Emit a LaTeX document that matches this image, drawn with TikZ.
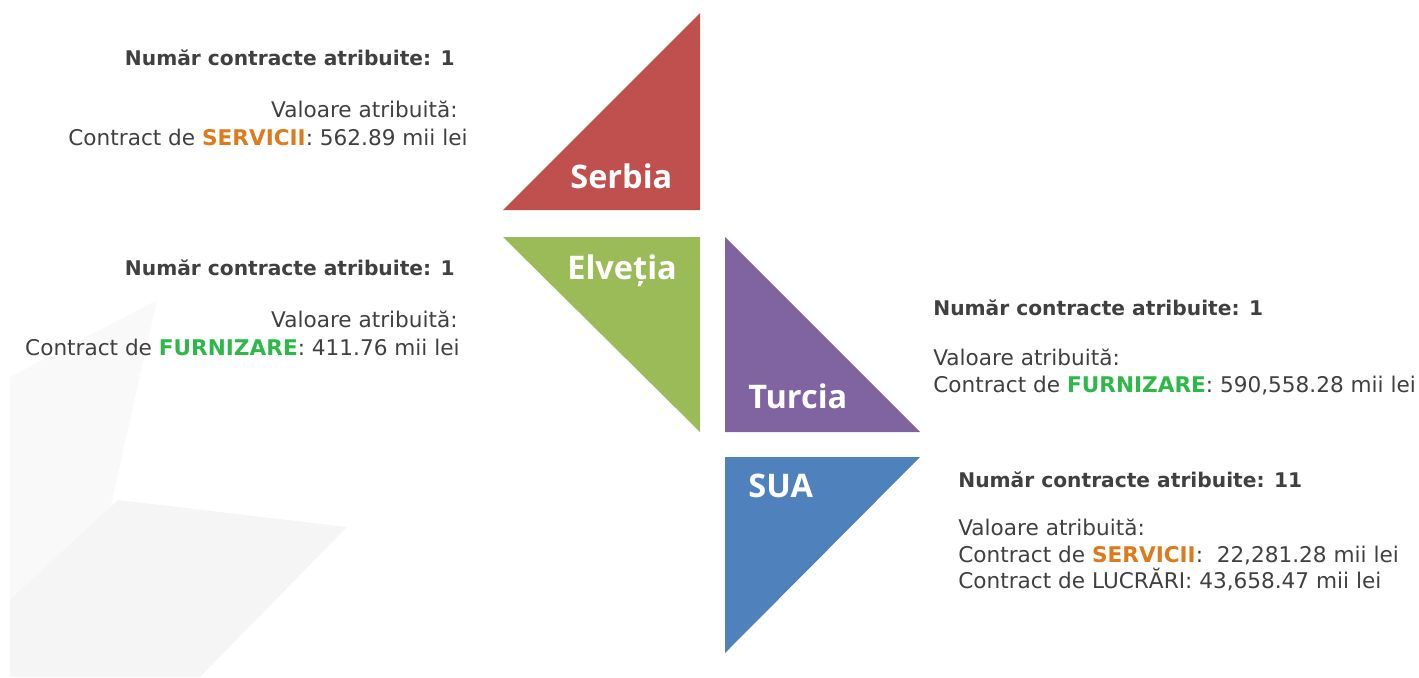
\documentclass[tikz,border=0pt]{standalone}
\usepackage{fontspec}
\setmainfont{DejaVu Sans}
\newfontfamily\countryfont{Open Sans}
\definecolor{txtgray}{HTML}{404040}
\definecolor{servorange}{HTML}{DB7B1E}
\definecolor{furngreen}{HTML}{2EB84A}
\definecolor{serbiared}{HTML}{C0504D}
\definecolor{elvgreen}{HTML}{9BBB59}
\definecolor{turcpurple}{HTML}{8064A2}
\definecolor{suablue}{HTML}{4F81BD}
\begin{document}
\begin{tikzpicture}[x=0.02cm, y=-0.02cm,
    count/.style={font=\fontsize{11.5}{14}\selectfont\bfseries, text=txtgray, inner sep=0pt},
    value/.style={font=\fontsize{12.3}{14}\selectfont, text=txtgray, inner sep=0pt},
    country/.style={font=\countryfont\fontsize{18.5}{20}\selectfont\bfseries, text=white, inner sep=0pt}]
  \useasboundingbox (0,0) rectangle (1419,677);

  \fill [gray!5] (157,300) -- (10,377) -- (10,600) -- (110,510) -- cycle;
  \fill [gray!8] (118,500) -- (347,527) -- (200,677) -- (10,677) -- (10,600) -- cycle;

  \fill [serbiared] (503,210) -- (700,210) -- (700,13) -- cycle;
  \fill [elvgreen] (503,237) -- (700,237) -- (700,432) -- cycle;
  \fill [turcpurple] (725,237) -- (725,432) -- (920,432) -- cycle;
  \fill [suablue] (725,457) -- (920,457) -- (725,653) -- cycle;

  \node [country, anchor=base west] (serbia) at (570,188) {Serbia};
  \node [country, anchor=base west] (elvetia) at (567,279) {Elveția};
  \node [country, anchor=base west] (turcia) at (748,408) {Turcia};
  \node [country, anchor=base west] (sua) at (748,497) {SUA};

  \node [count, anchor=base east] (serbianr) at (455,65) {Număr contracte atribuite: 1};
  \node [value, anchor=base east] (serbiaval) at (458,117) {Valoare atribuită:};
  \node [value, anchor=base east] (serbiactr) at (468,145)
    {Contract de \textcolor{servorange}{\bfseries SERVICII}: 562.89 mii lei};

  \node [count, anchor=base east] (elvnr) at (455,275) {Număr contracte atribuite: 1};
  \node [value, anchor=base east] (elvval) at (458,327) {Valoare atribuită:};
  \node [value, anchor=base east] (elvctr) at (460,355)
    {Contract de \textcolor{furngreen}{\bfseries FURNIZARE}: 411.76 mii lei};

  \node [count, anchor=base west] (turcnr) at (933,315) {Număr contracte atribuite: 1};
  \node [value, anchor=base west] (turcval) at (933,365) {Valoare atribuită:};
  \node [value, anchor=base west] (turcctr) at (933,392)
    {Contract de \textcolor{furngreen}{\bfseries FURNIZARE}: 590,558.28 mii lei};

  \node [count, anchor=base west] (suanr) at (958,487) {Număr contracte atribuite: 11};
  \node [value, anchor=base west] (suaval) at (958,535) {Valoare atribuită:};
  \node [value, anchor=base west] (suaserv) at (958,562)
    {Contract de \textcolor{servorange}{\bfseries SERVICII}:\ \ 22,281.28 mii lei};
  \node [value, anchor=base west] (sualucr) at (958,588) {Contract de LUCRĂRI: 43,658.47 mii lei};
\end{tikzpicture}
\end{document}
